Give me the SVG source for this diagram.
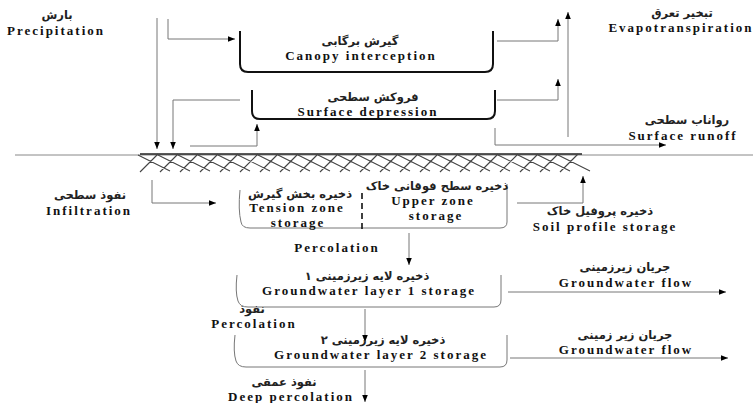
<svg xmlns="http://www.w3.org/2000/svg" width="753" height="403" viewBox="0 0 753 403">
<defs>
<marker id="ah" viewBox="0 0 10 10" refX="10" refY="5" markerWidth="7" markerHeight="7" markerUnits="userSpaceOnUse" orient="auto"><path d="M0,1 L10,5 L0,9 z" fill="#000"/></marker>
<style>
.en{font-family:"Liberation Serif","Times New Roman",serif;font-weight:bold;font-size:13px;letter-spacing:2px;fill:#111;text-anchor:middle}
.fa{font-family:"DejaVu Sans","Noto Sans",sans-serif;font-weight:bold;font-size:11.5px;fill:#222;text-anchor:middle}
.bk{fill:none;stroke:#111;stroke-width:2}
.lb{fill:none;stroke:#777;stroke-width:1}
.cn{fill:none;stroke:#777;stroke-width:1;marker-end:url(#ah)}
</style>
</defs>
<rect width="753" height="403" fill="#fff"/>

<g id="ground">
<path d="M15,155 H753" stroke="#888" stroke-width="1" fill="none"/>
<path d="M140,154 H582" stroke="#222" stroke-width="1.6" fill="none"/>
<path stroke="#444" stroke-width="1.1" fill="none" d="M140,172 L158,154 M160,172 L178,154 M180,172 L198,154 M200,172 L218,154 M220,172 L238,154 M240,172 L258,154 M260,172 L278,154 M280,172 L298,154 M300,172 L318,154 M320,172 L338,154 M340,172 L358,154 M360,172 L378,154 M380,172 L398,154 M400,172 L418,154 M420,172 L438,154 M440,172 L458,154 M460,172 L478,154 M480,172 L498,154 M500,172 L518,154 M520,172 L538,154 M540,172 L558,154 M560,172 L578,154 M138,155 L170,171 M158,155 L190,171 M178,155 L210,171 M198,155 L230,171 M218,155 L250,171 M238,155 L270,171 M258,155 L290,171 M278,155 L310,171 M298,155 L330,171 M318,155 L350,171 M338,155 L370,171 M358,155 L390,171 M378,155 L410,171 M398,155 L430,171 M418,155 L450,171 M438,155 L470,171 M458,155 L490,171 M478,155 L510,171 M498,155 L530,171 M518,155 L550,171 M538,155 L570,171 M558,155 L590,171"/>
</g>

<g id="precipitation">
<text class="fa" x="57" y="19">بارش</text>
<text class="en" x="56" y="35">Precipitation</text>
</g>

<g id="canopy">
<path class="bk" d="M240,31 V64 Q240,72 248,72 H485 Q493,72 493,64 V31"/>
<text class="fa" x="360" y="45">گیرش برگابی</text>
<text class="en" x="361" y="60">Canopy interception</text>
</g>

<g id="depression">
<path class="bk" d="M252,90 V111 Q252,119 260,119 H487 Q495,119 495,111 V90"/>
<text class="fa" x="373" y="101">فروکش سطحی</text>
<text class="en" x="368" y="116">Surface depression</text>
</g>

<g id="evapotranspiration">
<text class="fa" x="682" y="17">تبخیر تعرق</text>
<text class="en" x="681" y="32">Evapotranspiration</text>
</g>

<g id="runoff">
<text class="fa" x="687" y="124">رواناب سطحی</text>
<text class="en" x="683" y="140">Surface runoff</text>
</g>

<g id="infiltration">
<text class="fa" x="90" y="199">نفوذ سطحی</text>
<text class="en" x="89" y="215">Infiltration</text>
</g>

<g id="soil-zone">
<path class="lb" d="M240,190 Q238,210 241,222 Q242,228 250,228 H500 Q507,228 507,222 V184"/>
<path d="M362,193 V232" stroke="#111" stroke-width="1.6" stroke-dasharray="6,4" fill="none"/>
<text class="fa" x="300" y="198">ذخیره بخش گیرش</text>
<text class="en" x="297" y="212">Tension zone</text>
<text class="en" x="298" y="227">storage</text>
<text class="fa" x="437" y="190">ذخیره سطح فوقانی خاک</text>
<text class="en" x="433" y="205">Upper zone</text>
<text class="en" x="436" y="220">storage</text>
</g>

<g id="soil-profile">
<text class="fa" x="600" y="215">ذخیره پروفیل خاک</text>
<text class="en" x="605" y="231">Soil profile storage</text>
</g>

<g id="percolation1">
<text class="en" x="337" y="252">Percolation</text>
</g>

<g id="gw1">
<path class="lb" d="M237,275 Q235,292 238,301 Q240,307 248,307 H494 Q501,307 501,300 V275"/>
<text class="fa" x="367" y="280">ذخیره لایه زیرزمینی ۱</text>
<text class="en" x="369" y="295">Groundwater layer 1 storage</text>
</g>

<g id="percolation2">
<text class="fa" x="252" y="313">نفوذ</text>
<text class="en" x="254" y="328">Percolation</text>
</g>

<g id="gw2">
<path class="lb" d="M235,335 Q233,352 236,361 Q238,367 246,367 H500 Q507,367 507,360 V335"/>
<text class="fa" x="383" y="344">ذخیره لایه زیرزمینی ۲</text>
<text class="en" x="381" y="359">Groundwater layer 2 storage</text>
</g>

<g id="deep">
<text class="fa" x="284" y="386">نفوذ عمقی</text>
<text class="en" x="291" y="401">Deep percolation</text>
</g>

<g id="gwflow1">
<text class="fa" x="625" y="271">جریان زیرزمینی</text>
<text class="en" x="626" y="287">Groundwater flow</text>
</g>

<g id="gwflow2">
<text class="fa" x="625" y="339">جریان زیر زمینی</text>
<text class="en" x="626" y="354">Groundwater flow</text>
</g>

<g id="connectors">
<path class="cn" d="M157,18 V149"/>
<path class="cn" d="M168,19 V39 H235"/>
<path class="cn" d="M240,100 H173 V149"/>
<path class="cn" d="M190,146 H257 V124"/>
<path class="cn" d="M497,41 H558 V19"/>
<path class="cn" d="M497,100 H558 V79"/>
<path class="cn" d="M568,137 V12"/>
<path class="cn" d="M495,128 V145 H666"/>
<path class="cn" d="M152,180 V203 H216"/>
<path class="cn" d="M517,203 H583 V176"/>
<path class="cn" d="M409,233 V265"/>
<path class="cn" d="M365,309 V342"/>
<path class="cn" d="M365,370 V402"/>
<path class="cn" d="M508,292 H726"/>
<path class="cn" d="M510,358 H728"/>
</g>
</svg>
